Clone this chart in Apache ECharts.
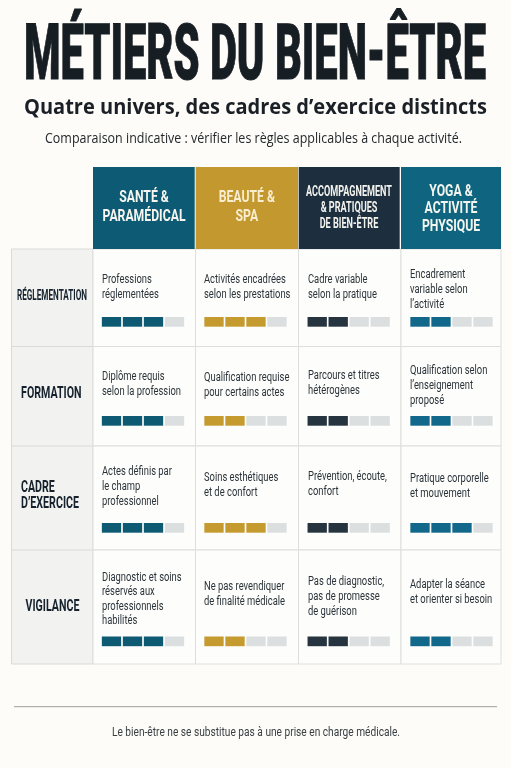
<!DOCTYPE html>
<html><head><meta charset="utf-8">
<style>html,body{margin:0;padding:0;background:#fdfcf9}#c{width:511px;height:768px}</style>
<script src="https://cdn.jsdelivr.net/npm/echarts@6/dist/echarts.min.js"></script>
</head><body><div id="c"></div>
<script>
const title = "MÉTIERS DU BIEN-ÊTRE";
const subtitle = "Quatre univers, des cadres d’exercice distincts";
const note = "Comparaison indicative : vérifier les règles applicables à chaque activité.";
const footer = "Le bien-être ne se substitue pas à une prise en charge médicale.";
const columns = [
  ["SANTÉ &","PARAMÉDICAL"],
  ["BEAUTÉ &","SPA"],
  ["ACCOMPAGNEMENT","& PRATIQUES","DE BIEN-ÊTRE"],
  ["YOGA &","ACTIVITÉ","PHYSIQUE"]
];
const rowLabels = [["RÉGLEMENTATION"],["FORMATION"],["CADRE","D’EXERCICE"],["VIGILANCE"]];
const maxLevel = 4;
const reglementation = [3,3,2,2];
const formation = [3,2,2,2];
const cadre = [3,3,2,3];
const vigilance = [3,2,2,2];
const levels = [reglementation, formation, cadre, vigilance];
const cellText = [
 [["Professions","réglementées"],["Activités encadrées","selon les prestations"],["Cadre variable","selon la pratique"],["Encadrement","variable selon","l’activité"]],
 [["Diplôme requis","selon la profession"],["Qualification requise","pour certains actes"],["Parcours et titres","hétérogènes"],["Qualification selon","l’enseignement","proposé"]],
 [["Actes définis par","le champ","professionnel"],["Soins esthétiques","et de confort"],["Prévention, écoute,","confort"],["Pratique corporelle","et mouvement"]],
 [["Diagnostic et soins","réservés aux","professionnels","habilités"],["Ne pas revendiquer","de finalité médicale"],["Pas de diagnostic,","pas de promesse","de guérison"],["Adapter la séance","et orienter si besoin"]]
];

const headColor = ["#0c5a73","#c2982f","#1d2e3e","#0f6480"];
const barColor  = ["#0e5a72","#c59b30","#25343f","#11688a"];
const emptyColor = "#dcdfe0";
const ink = "#15222d";

const colX = [93,195.5,298.5,401,501];
const rowY = [249,346.5,446,550,664];
const textX = [102,204,308,410];
const barX = [101,203.5,306.7,409.5];
const barW = 84;
const barTop = [317,416,523,636.5];
const cellMid = [[287,287,287,290],[384,385,383.5,386],[487,485,484,486],[599,594.5,597,592]];

const ctx = document.createElement('canvas').getContext('2d');
function fit(t,font,w){ctx.font=font;return w/ctx.measureText(t).width;}
const g=[];
function text(t,x,y,font,fill,align,sx,extra){
  g.push({type:'text',x,y,scaleX:sx,z:10,silent:true,
    style:Object.assign({text:t,font,fill,align:align||'left',verticalAlign:'middle'},extra||{})});
}
function rect(x,y,w,h,fill,stroke){
  g.push({type:'rect',shape:{x,y,width:w,height:h},z:1,silent:true,
    style:{fill,stroke:stroke||null,lineWidth:stroke?1:0}});
}
// headline block
const fT="900 78px Roboto";
text(title,24,59,fT,"#161e23","left",fit(title,fT,462),{stroke:"#161e23",lineWidth:1});
const fS="700 22px 'Open Sans'";
text(subtitle,24,108,fS,"#1a2026","left",fit(subtitle,fS,463));
const fN="400 15px 'Open Sans'";
text(note,45,139,fN,"#23282c","left",fit(note,fN,417));

// table body
rect(11.5,249,81.5,415,"#f2f2f0","#dadad7");
for(let r=0;r<4;r++)for(let c=0;c<4;c++){
  rect(colX[c],rowY[r],colX[c+1]-colX[c],rowY[r+1]-rowY[r],"#fdfdfb","#dedfdc");
}
for(let r=1;r<4;r++) g.push({type:'line',shape:{x1:11.5,y1:rowY[r],x2:93,y2:rowY[r]},z:2,silent:true,style:{stroke:"#dadad7",lineWidth:1}});

// headers
const headRect=[[93,194.7],[195.7,298],[298.7,399.7],[401,501]];
headRect.forEach((h,i)=>rect(h[0],167,h[1]-h[0],82,headColor[i]));
const fH="700 16.5px Roboto", sH=fit("PARAMÉDICAL",fH,83);
const fH3="700 14.5px Roboto", sH3=fit("ACCOMPAGNEMENT",fH3,86);
const headCfg=[
 {x:144,ys:[198,217],f:fH,s:sH,fill:"#f6f5ef"},
 {x:246.8,ys:[198,217],f:fH,s:sH,fill:"#f8edcf"},
 {x:349,ys:[192.5,208.5,224.5],f:fH3,s:sH3,fill:"#f3f3ee"},
 {x:451,ys:[191.5,209,226.5],f:fH,s:sH,fill:"#f3f5ef"}
];
columns.forEach((lines,i)=>{const k=headCfg[i];lines.forEach((l,j)=>text(l,k.x,k.ys[j],k.f,k.fill,'center',k.s,{letterSpacing:0}));});

// row labels
const fR="700 16px Roboto", sR=fit("FORMATION",fR,60.5);
const fR1="700 14px Roboto", sR1=fit("RÉGLEMENTATION",fR1,70);
text(rowLabels[0][0],52,296,fR1,ink,'center',sR1);
text(rowLabels[1][0],51.3,394,fR,ink,'center',sR);
text(rowLabels[2][0],21,487.5,fR,ink,'left',sR);
text(rowLabels[2][1],21,504,fR,ink,'left',sR);
text(rowLabels[3][0],52.5,606.5,fR,ink,'center',sR);

// cell copy
const fC="400 13.2px Roboto", sC=fit("selon la profession",fC,79);
cellText.forEach((row,r)=>row.forEach((lines,c)=>{
  const step = lines.length===4?14.5:15;
  const y0 = cellMid[r][c]-(lines.length-1)*step/2;
  lines.forEach((l,j)=>text(l,textX[c],y0+j*step,fC,"#2a3339",'left',sC));
}));

// footer
g.push({type:'line',shape:{x1:14,y1:706.7,x2:497,y2:706.7},z:2,silent:true,style:{stroke:"#9b9f9f",lineWidth:1}});
const fF="400 13px Roboto";
text(footer,112,733,fF,"#3a4044",'left',fit(footer,fF,288));

// level gauges: one small grid per cell
const grids=[],xAxes=[],yAxes=[],series=[];
levels.forEach((row,r)=>row.forEach((lv,c)=>{
  const i=grids.length;
  grids.push({left:barX[c],top:barTop[r],width:barW,height:9.7,containLabel:false});
  xAxes.push({type:'category',gridIndex:i,data:[1,2,3,4],show:false});
  yAxes.push({type:'value',gridIndex:i,min:0,max:1,show:false});
  const data=[];
  for(let k=0;k<maxLevel;k++)data.push({value:1,itemStyle:{color:k<lv?barColor[c]:emptyColor}});
  series.push({type:'bar',xAxisIndex:i,yAxisIndex:i,data,barCategoryGap:'8%',silent:true,animation:false});
}));

const chart=echarts.init(document.getElementById('c'),null,{renderer:'canvas',width:511,height:768});
chart.setOption({animation:false,backgroundColor:"#fdfcf9",tooltip:{show:false},
  grid:grids,xAxis:xAxes,yAxis:yAxes,series,graphic:{elements:g}});
</script></body></html>
